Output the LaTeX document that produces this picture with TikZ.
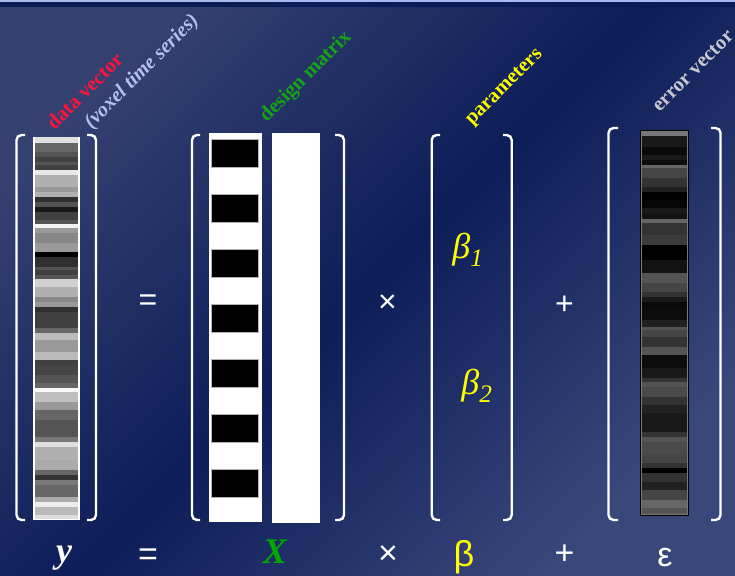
\documentclass[tikz,border=0pt]{standalone}
\usepackage{fontspec}
\setmainfont{Liberation Serif}
\newfontfamily\opsfont{Liberation Sans}
\definecolor{bglight}{RGB}{52,64,112}
\definecolor{bgdark}{RGB}{13,29,88}
\definecolor{bglight2}{RGB}{58,71,123}
\definecolor{topline}{RGB}{170,184,240}
\definecolor{topband}{RGB}{11,27,85}
\definecolor{datared}{RGB}{255,20,60}
\definecolor{voxelblue}{RGB}{180,192,240}
\definecolor{designgreen}{RGB}{20,165,20}
\definecolor{paryellow}{RGB}{255,255,0}
\definecolor{errgray}{RGB}{200,200,208}
\definecolor{xgreen}{RGB}{0,170,0}
\tikzset{
  brk/.style={draw=white,line width=2.4pt,rounded corners=5pt},
  difflabel/.style={rotate=45,inner sep=0pt,font=\fontsize{20.5}{20.5}\selectfont\bfseries},
  opmid/.style={inner sep=0pt,text=white,font=\opsfont\fontsize{32}{32}\selectfont},
  opbot/.style={inner sep=0pt,text=white,font=\opsfont\fontsize{34}{34}\selectfont},
  betanode/.style={inner sep=0pt,text=paryellow,font=\fontsize{36}{36}\selectfont\itshape},
}
\begin{document}
\begin{tikzpicture}[x=1pt,y=-1pt]
\useasboundingbox (0,0) rectangle (735,575);
% background
\shade[top color=bglight,bottom color=bglight2,middle color=bgdark,shading angle=45] (0,0) rectangle (735,575);
\fill[topband] (0,2) rectangle (735,7);
\fill[topline] (0,0) rectangle (735,2);

% ---------- data vector ----------
\fill[white] (33,136.5) rectangle (80,520);
\foreach \a/\b/\g in {136.7/142.7/88,142.7/151.7/40,151.7/156.7/33,156.7/161.7/25,161.7/165/33,165/170/25,170/175/91,175/186.7/69,186.7/191.7/60,191.7/196.7/69,196.7/201.7/19,201.7/206.7/33,206.7/211.7/10,211.7/220/25,220/224/33,224/228.3/95,228.3/233.3/60,233.3/243.3/53,243.3/251.7/60,251.7/256.7/0,256.7/266.7/19,266.7/270/33,270/275/25,275/279.3/33,279.3/286.7/82,286.7/296.7/69,296.7/301.7/53,301.7/306.7/60,306.7/311.7/19,311.7/328.3/25,328.3/333.3/40,333.3/340/73,340/351.7/60,351.7/360/73,360/365/25,365/375/27,375/383.3/33,383.3/388.3/40,388.3/391.7/97,391.7/401.7/75,401.7/410/60,410/420/40,420/436.7/33,436.7/441.7/47,441.7/446.7/87,446.7/460/69,460/470/67,470/475/40,475/480/20,480/485/47,485/496.7/40,496.7/501.7/67,501.7/506.7/93,506.7/515/73,515/519.3/87}
  \fill[white!\g!black] (35,\a) rectangle (78,\b);
\draw[brk] (25,135) -- (16.5,135) -- (16.5,520) -- (25,520);
\draw[brk] (87,135) -- (96,135) -- (96,520) -- (87,520);

% ---------- design matrix ----------
\fill[white] (209,132.7) rectangle (262.3,521.7);
\foreach \i in {0,...,6}
  \filldraw[fill=black,draw=black!30,line width=0.6pt] (211.7,139.3+55*\i) rectangle (258.3,167.3+55*\i);
\fill[white] (272.3,133) rectangle (320,523.3);
\draw[brk] (200,135) -- (192,135) -- (192,520) -- (200,520);
\draw[brk] (335,135) -- (344,135) -- (344,520) -- (335,520);

% ---------- parameters ----------
\draw[brk] (440,135) -- (431.7,135) -- (431.7,520) -- (440,520);
\draw[brk] (503,135) -- (511.7,135) -- (511.7,520) -- (503,520);
\node[betanode] (b1) at (468,250) {β\textsubscript{1}};
\node[betanode] (b2) at (477,386) {β\textsubscript{2}};

% ---------- error vector ----------
\fill[black] (640,130) rectangle (688.5,515.5);
\fill[white!47!black] (641,130.7) rectangle (687.7,515);
\foreach \a/\b/\g in {136/146.7/10,146.7/155/4,155/160/10,160/165/5,165/168.3/40,168.3/178.3/27,178.3/186.7/20,186.7/191.7/13,191.7/200/0,200/208.3/2,208.3/213.3/10,213.3/219.3/7,219.3/223.3/40,223.3/235/20,235/245/23,245/260/0,260/265/7,265/273.3/7,273.3/283.3/33,283.3/291.7/27,291.7/296.7/20,296.7/301.7/10,301.7/310/4,310/320/5,320/326.7/13,326.7/330/33,330/336.7/27,336.7/346.7/20,346.7/355/33,355/368.3/5,368.3/378.3/10,378.3/381.7/20,381.7/386.7/33,386.7/396.7/29,396.7/405/20,405/413.3/13,413.3/431.7/10,431.7/436.7/20,436.7/441.7/33,441.7/455/29,455/463.3/27,463.3/468.3/20,468.3/473.3/0,473.3/481.7/20,481.7/490/13,490/500/27,500/508.3/40,508.3/513.5/33}
  \fill[white!\g!black] (642,\a) rectangle (686.7,\b);
\draw[brk] (618,128) -- (608.5,128) -- (608.5,520) -- (618,520);
\draw[brk] (711,128) -- (720.5,128) -- (720.5,520) -- (711,520);

% ---------- rotated labels ----------
\node[difflabel,text=datared] (ldata) at (84.5,91) {data vector};
\node[difflabel,text=voxelblue,font=\fontsize{20.5}{20.5}\selectfont\bfseries\itshape] (lvoxel) at (142,72) {(voxel time series)};
\node[difflabel,text=designgreen] (ldesign) at (306,77) {design matrix};
\node[difflabel,text=paryellow] (lpar) at (505,88) {parameters};
\node[difflabel,text=errgray] (lerr) at (693,71) {error vector};

% ---------- middle operators ----------
\node[opmid] (eqm) at (148,303) {=};
\node[opmid] (timesm) at (387.5,304) {×};
\node[opmid] (plusm) at (564.5,305) {+};

% ---------- bottom row ----------
\node[inner sep=0pt,text=white,font=\fontsize{36}{36}\selectfont\bfseries\itshape] (yb) at (64,558) {y};
\node[opbot] (eqb) at (148,557) {=};
\node[inner sep=0pt,text=xgreen,font=\fontsize{36}{36}\selectfont\bfseries\itshape] (xb) at (275,552) {X};
\node[opbot] (timesb) at (388,555) {×};
\node[inner sep=0pt,text=paryellow,font=\opsfont\fontsize{36}{36}\selectfont] (betab) at (464,557) {β};
\node[opbot] (plusb) at (564.5,555) {+};
\node[opbot] (epsb) at (665,558) {ε};
\end{tikzpicture}
\end{document}
